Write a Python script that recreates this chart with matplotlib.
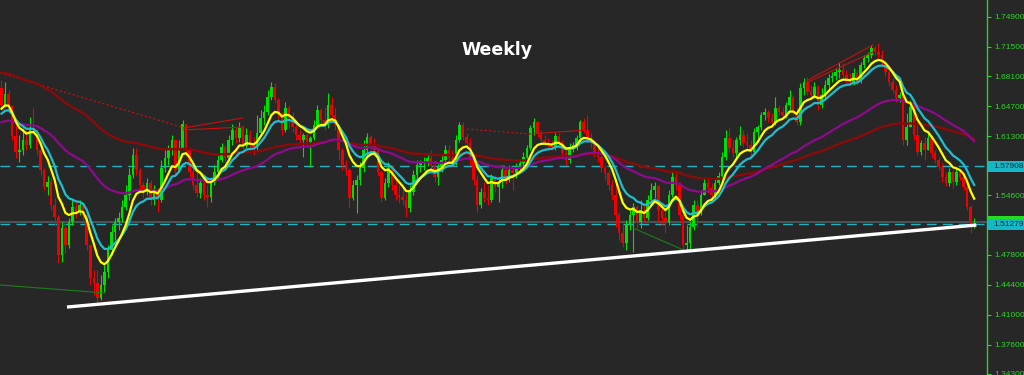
import matplotlib
matplotlib.use("Agg")
import matplotlib.pyplot as plt
from matplotlib.patches import Rectangle
import numpy as np

# ---------------- data (weekly candles, price units) ----------------
first_open = 1.668
closes = [
    1.649, 1.661, 1.647, 1.613, 1.595, 1.597, 1.609, 1.603, 1.622, 1.620,
    1.597, 1.575, 1.555, 1.561, 1.535, 1.521, 1.478, 1.509, 1.489, 1.515,
    1.532, 1.527, 1.535, 1.523, 1.489, 1.452, 1.446, 1.429, 1.444, 1.459,
    1.484, 1.504, 1.515, 1.520, 1.532, 1.546, 1.569, 1.592, 1.575, 1.558,
    1.550, 1.560, 1.540, 1.552, 1.540, 1.577, 1.588, 1.600, 1.609, 1.575,
    1.600, 1.627, 1.597, 1.572, 1.558, 1.548, 1.560, 1.546, 1.544, 1.561,
    1.572, 1.586, 1.601, 1.588, 1.609, 1.620, 1.611, 1.622, 1.602, 1.614,
    1.603, 1.601, 1.617, 1.634, 1.641, 1.658, 1.669, 1.654, 1.637, 1.620,
    1.645, 1.634, 1.623, 1.614, 1.609, 1.614, 1.606, 1.611, 1.626, 1.643,
    1.631, 1.626, 1.649, 1.637, 1.626, 1.597, 1.580, 1.575, 1.543, 1.558,
    1.563, 1.577, 1.597, 1.612, 1.603, 1.597, 1.572, 1.543, 1.560, 1.577,
    1.558, 1.546, 1.544, 1.540, 1.531, 1.550, 1.569, 1.580, 1.583, 1.584,
    1.588, 1.580, 1.567, 1.578, 1.586, 1.597, 1.588, 1.583, 1.609, 1.626,
    1.612, 1.605, 1.586, 1.563, 1.535, 1.550, 1.543, 1.540, 1.565, 1.555,
    1.561, 1.575, 1.563, 1.575, 1.571, 1.578, 1.583, 1.589, 1.600, 1.622,
    1.629, 1.617, 1.609, 1.605, 1.603, 1.601, 1.613, 1.605, 1.594, 1.586,
    1.601, 1.603, 1.611, 1.629, 1.620, 1.609, 1.605, 1.594, 1.589, 1.577,
    1.571, 1.558, 1.546, 1.523, 1.503, 1.492, 1.512, 1.523, 1.532, 1.515,
    1.529, 1.520, 1.540, 1.552, 1.556, 1.529, 1.520, 1.515, 1.546, 1.567,
    1.558, 1.523, 1.489, 1.492, 1.510, 1.535, 1.527, 1.546, 1.560, 1.554,
    1.546, 1.560, 1.568, 1.589, 1.611, 1.600, 1.594, 1.609, 1.614, 1.605,
    1.603, 1.595, 1.618, 1.623, 1.637, 1.641, 1.634, 1.629, 1.645, 1.641,
    1.637, 1.649, 1.658, 1.641, 1.629, 1.668, 1.675, 1.663, 1.660, 1.669,
    1.649, 1.660, 1.671, 1.679, 1.682, 1.686, 1.688, 1.683, 1.677, 1.675,
    1.685, 1.675, 1.694, 1.702, 1.705, 1.713, 1.709, 1.705, 1.696, 1.686,
    1.675, 1.666, 1.657, 1.660, 1.609, 1.623, 1.646, 1.614, 1.595, 1.605,
    1.597, 1.611, 1.594, 1.586, 1.578, 1.567, 1.560, 1.572, 1.561, 1.572,
    1.567, 1.555, 1.532, 1.511, 1.5128,
]
highs = [
    1.677, 1.675, 1.666, 1.636, 1.626, 1.614, 1.622, 1.620, 1.635, 1.645,
    1.622, 1.600, 1.577, 1.568, 1.565, 1.543, 1.523, 1.515, 1.515, 1.520,
    1.540, 1.540, 1.540, 1.537, 1.526, 1.489, 1.461, 1.461, 1.455, 1.467,
    1.489, 1.512, 1.520, 1.527, 1.540, 1.558, 1.577, 1.600, 1.600, 1.577,
    1.561, 1.565, 1.563, 1.558, 1.554, 1.586, 1.597, 1.603, 1.614, 1.606,
    1.609, 1.631, 1.622, 1.600, 1.580, 1.572, 1.565, 1.563, 1.558, 1.565,
    1.580, 1.592, 1.605, 1.603, 1.614, 1.627, 1.623, 1.629, 1.626, 1.622,
    1.620, 1.612, 1.637, 1.643, 1.649, 1.666, 1.675, 1.674, 1.657, 1.641,
    1.652, 1.649, 1.641, 1.629, 1.620, 1.617, 1.617, 1.613, 1.631, 1.649,
    1.645, 1.646, 1.662, 1.658, 1.645, 1.626, 1.600, 1.586, 1.577, 1.563,
    1.569, 1.584, 1.609, 1.617, 1.614, 1.611, 1.600, 1.575, 1.565, 1.584,
    1.580, 1.563, 1.558, 1.554, 1.548, 1.558, 1.575, 1.586, 1.586, 1.589,
    1.592, 1.597, 1.586, 1.583, 1.592, 1.603, 1.603, 1.597, 1.614, 1.629,
    1.629, 1.617, 1.611, 1.592, 1.569, 1.554, 1.561, 1.558, 1.570, 1.569,
    1.565, 1.580, 1.577, 1.580, 1.577, 1.583, 1.586, 1.595, 1.603, 1.626,
    1.634, 1.630, 1.620, 1.614, 1.611, 1.609, 1.617, 1.617, 1.609, 1.597,
    1.605, 1.606, 1.614, 1.631, 1.634, 1.637, 1.617, 1.609, 1.600, 1.592,
    1.580, 1.575, 1.563, 1.558, 1.527, 1.512, 1.518, 1.529, 1.537, 1.535,
    1.540, 1.535, 1.546, 1.560, 1.561, 1.558, 1.537, 1.531, 1.552, 1.572,
    1.575, 1.561, 1.527, 1.512, 1.515, 1.540, 1.540, 1.552, 1.565, 1.565,
    1.560, 1.565, 1.572, 1.595, 1.620, 1.622, 1.609, 1.612, 1.625, 1.620,
    1.617, 1.609, 1.622, 1.626, 1.641, 1.645, 1.643, 1.639, 1.658, 1.649,
    1.646, 1.652, 1.666, 1.660, 1.645, 1.674, 1.679, 1.680, 1.671, 1.675,
    1.671, 1.668, 1.677, 1.684, 1.686, 1.691, 1.697, 1.696, 1.688, 1.685,
    1.691, 1.688, 1.697, 1.705, 1.709, 1.717, 1.716, 1.719, 1.711, 1.700,
    1.688, 1.679, 1.671, 1.663, 1.660, 1.639, 1.654, 1.649, 1.628, 1.609,
    1.612, 1.617, 1.612, 1.597, 1.589, 1.583, 1.572, 1.577, 1.575, 1.577,
    1.575, 1.569, 1.558, 1.535, 1.520,
]
lows = [
    1.646, 1.646, 1.643, 1.609, 1.588, 1.584, 1.592, 1.597, 1.600, 1.618,
    1.592, 1.569, 1.552, 1.546, 1.529, 1.512, 1.469, 1.470, 1.480, 1.486,
    1.512, 1.520, 1.523, 1.518, 1.484, 1.444, 1.432, 1.421, 1.427, 1.436,
    1.452, 1.478, 1.495, 1.506, 1.515, 1.529, 1.540, 1.565, 1.569, 1.552,
    1.543, 1.546, 1.535, 1.535, 1.527, 1.538, 1.572, 1.580, 1.592, 1.569,
    1.572, 1.600, 1.592, 1.567, 1.552, 1.544, 1.543, 1.540, 1.532, 1.538,
    1.558, 1.565, 1.584, 1.584, 1.586, 1.603, 1.605, 1.606, 1.597, 1.600,
    1.597, 1.592, 1.597, 1.614, 1.626, 1.637, 1.654, 1.651, 1.631, 1.614,
    1.618, 1.622, 1.618, 1.609, 1.603, 1.589, 1.601, 1.578, 1.609, 1.622,
    1.626, 1.620, 1.622, 1.631, 1.620, 1.586, 1.575, 1.569, 1.531, 1.540,
    1.526, 1.558, 1.572, 1.592, 1.597, 1.592, 1.568, 1.538, 1.540, 1.555,
    1.552, 1.540, 1.537, 1.535, 1.521, 1.527, 1.546, 1.563, 1.572, 1.575,
    1.579, 1.575, 1.561, 1.558, 1.572, 1.584, 1.583, 1.577, 1.580, 1.606,
    1.609, 1.600, 1.580, 1.558, 1.527, 1.531, 1.538, 1.535, 1.538, 1.550,
    1.538, 1.554, 1.559, 1.561, 1.552, 1.565, 1.575, 1.577, 1.586, 1.597,
    1.614, 1.612, 1.605, 1.602, 1.600, 1.597, 1.597, 1.601, 1.589, 1.580,
    1.583, 1.595, 1.597, 1.606, 1.617, 1.605, 1.600, 1.589, 1.584, 1.572,
    1.563, 1.552, 1.540, 1.510, 1.495, 1.487, 1.484, 1.506, 1.481, 1.509,
    1.509, 1.515, 1.518, 1.535, 1.543, 1.515, 1.512, 1.503, 1.512, 1.544,
    1.552, 1.518, 1.484, 1.484, 1.484, 1.506, 1.510, 1.523, 1.546, 1.548,
    1.540, 1.543, 1.558, 1.565, 1.586, 1.595, 1.589, 1.589, 1.603, 1.601,
    1.597, 1.589, 1.592, 1.611, 1.620, 1.631, 1.629, 1.626, 1.626, 1.637,
    1.634, 1.634, 1.643, 1.637, 1.626, 1.626, 1.660, 1.660, 1.656, 1.656,
    1.643, 1.645, 1.656, 1.666, 1.675, 1.677, 1.679, 1.679, 1.674, 1.671,
    1.671, 1.671, 1.674, 1.691, 1.697, 1.702, 1.705, 1.702, 1.692, 1.682,
    1.670, 1.662, 1.652, 1.652, 1.603, 1.603, 1.623, 1.609, 1.592, 1.592,
    1.586, 1.597, 1.588, 1.583, 1.575, 1.561, 1.556, 1.556, 1.554, 1.558,
    1.563, 1.552, 1.529, 1.503, 1.509,
]

# moving-average settings and starting values read at the left edge
ma_periods = {"yellow": 8, "cyan": 13, "purple": 50, "darkred": 100}
ma_seeds = {"yellow": 1.643, "cyan": 1.637, "purple": 1.628, "darkred": 1.686}

# price levels
y_ticks = [1.749, 1.715, 1.681, 1.647, 1.613, 1.546, 1.478, 1.444, 1.410, 1.376, 1.343]
level_cyan = 1.57908
level_bid = 1.51279
level_ask = 1.5154

# trend lines: (candle index, price) pairs
white_trend = [(18.45, 1.4187), (274.6, 1.5120)]
red_dotted = [[(-0.4, 1.685), (51.7, 1.6224)], [(131.1, 1.6212), (148.9, 1.6156)]]
red_solid = [[(51.2, 1.6224), (68.0, 1.6338)], [(51.2, 1.6201), (68.0, 1.6235)],
             [(148.9, 1.6156), (164.9, 1.6201)],
             [(227.2, 1.6770), (245.5, 1.7168)], [(227.2, 1.6747), (245.5, 1.7088)]]
green_lines = [[(-0.4, 1.4438), (29.2, 1.4347)], [(177.9, 1.5086), (193.4, 1.4813)]]

# ---------------- drawing ----------------
n = min(len(closes), len(highs), len(lows))
c = np.array(closes[:n])
o = np.concatenate([[first_open], c[:-1]])
h = np.maximum(np.array(highs[:n]), np.maximum(o, c))
l = np.minimum(np.array(lows[:n]), np.minimum(o, c))
x = np.arange(n)

def ema(vals, period, seed):
    a = 2.0 / (period + 1)
    e = seed
    out = []
    for v in vals:
        e = e + a * (v - e)
        out.append(e)
    return np.array(out)

BG = "#272727"
GREEN = "#00e000"
RED = "#ee0000"
AXG = "#2bd42b"

fig = plt.figure(figsize=(10.24, 3.75), dpi=100, facecolor=BG)
ax = fig.add_axes([0, 0, 987 / 1024, 1])
ax.set_facecolor(BG)
ax.set_xlim(-0.42, 277.6)
ax.set_ylim(1.3414, 1.768)

# horizontal levels
ax.axhline(level_cyan, color="#1eb4c4", lw=1.0, ls=(0, (7, 4.5)), zorder=1)
ax.axhline(level_ask, color="#50565c", lw=1.3, zorder=1)
ax.axhline(level_bid, color="#1eb4c4", lw=1.0, ls=(0, (7, 4.5)), zorder=1)

# candles
up = c >= o
cols = np.where(up, GREEN, RED)
ax.vlines(x, l, h, colors=cols, lw=0.8, zorder=2)
body_h = np.maximum(np.abs(c - o), 0.0012)
ax.bar(x, body_h, bottom=np.minimum(o, c), width=0.72, color=cols, lw=0, zorder=3)

# trend lines
for seg in red_dotted:
    (x0, y0), (x1, y1) = seg
    ax.plot([x0, x1], [y0, y1], color="#cc1010", lw=0.8, ls=(0, (2, 2)), zorder=4)
for seg in red_solid:
    (x0, y0), (x1, y1) = seg
    ax.plot([x0, x1], [y0, y1], color="#c81010", lw=0.8, zorder=4)
for seg in green_lines:
    (x0, y0), (x1, y1) = seg
    ax.plot([x0, x1], [y0, y1], color="#1d7d1d", lw=0.8, zorder=4)

# moving averages
ax.plot(x, ema(c, ma_periods["darkred"], ma_seeds["darkred"]), color="#8b0a0a", lw=1.7, zorder=5)
ax.plot(x, ema(c, ma_periods["purple"], ma_seeds["purple"]), color="#8e0a8e", lw=1.6, zorder=5)
ax.plot(x, ema(c, ma_periods["cyan"], ma_seeds["cyan"]), color="#1ec0d0", lw=1.6, zorder=6)
ax.plot(x, ema(c, ma_periods["yellow"], ma_seeds["yellow"]), color="#ffff00", lw=1.6, zorder=7)

# white support line
(wx0, wy0), (wx1, wy1) = white_trend
ax.plot([wx0, wx1], [wy0, wy1], color="white", lw=2.4, zorder=8, solid_capstyle="butt")

# axis styling
for s in ["left", "top", "bottom"]:
    ax.spines[s].set_visible(False)
ax.spines["right"].set_color(AXG)
ax.spines["right"].set_linewidth(1.0)
ax.set_xticks([])
ax.yaxis.tick_right()
ax.set_yticks(y_ticks)
ax.set_yticklabels([f"{v:.5f}" for v in y_ticks])
ax.tick_params(axis="y", colors=AXG, length=3, width=0.8, pad=2, labelsize=6)
for lab in ax.get_yticklabels():
    lab.set_fontfamily("Liberation Sans")
    lab.set_color(AXG)

# price label boxes
tr = ax.get_yaxis_transform()
half = 5.5 / 879
def label_box(price, txt, face, tcol):
    ax.add_patch(Rectangle((1.001, price - half), 0.037, 2 * half, transform=tr,
                           facecolor=face, edgecolor="none", clip_on=False, zorder=10))
    ax.text(1.0065, price, txt, transform=tr, fontsize=6, family="Liberation Sans",
            color=tcol, va="center", ha="left", clip_on=False, zorder=11)

label_box(level_cyan, "1.57908", "#16b8c8", "#0d2b2b")
ax.add_patch(Rectangle((1.001, level_ask + 0.0005 - half), 0.037, 2 * half, transform=tr,
                       facecolor="#22dd22", edgecolor="none", clip_on=False, zorder=9))
label_box(level_bid, "1.51279", "#16b8c8", "#0d2b2b")

fig.text(497 / 1024, 1 - 50 / 375, "Weekly", color="white", fontsize=12.5,
         fontweight="bold", ha="center", va="center", family="DejaVu Sans")

fig.savefig("out.png", dpi=100, facecolor=BG)
